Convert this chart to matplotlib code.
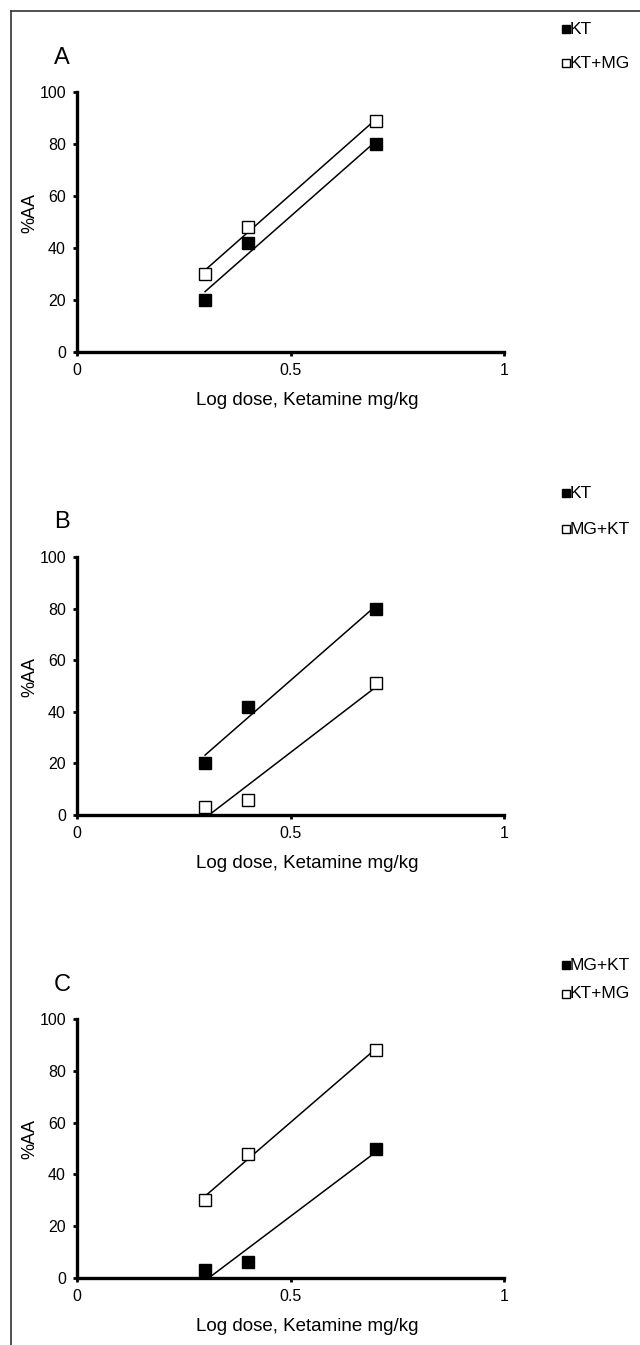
import numpy as np
import matplotlib
matplotlib.use("Agg")
import matplotlib.pyplot as plt
from matplotlib.lines import Line2D

plt.rcParams['font.family'] = ['Liberation Sans', 'DejaVu Sans']

log_dose = [0.30, 0.40, 0.70]

# panel A
a_kt = [20, 42, 80]
a_ktmg = [30, 48, 89]
# panel B
b_kt = [20, 42, 80]
b_mgkt = [3, 6, 51]
# panel C
c_mgkt = [3, 6, 50]
c_ktmg = [30, 48, 88]

panels = [
    ("A", ("KT", a_kt), ("KT+MG", a_ktmg)),
    ("B", ("KT", b_kt), ("MG+KT", b_mgkt)),
    ("C", ("MG+KT", c_mgkt), ("KT+MG", c_ktmg)),
]

W, H = 640, 1345
fig = plt.figure(figsize=(W / 100, H / 100), dpi=100)

# axes boxes in pixels: (top, bottom), legend first row y, letter y
boxes = [(92, 352, 29, 58), (557, 815, 493, 522), (1019, 1278, 965, 985)]
leg_gap = [34, 36, 29]

for (letter, filled, hollow), (top, bot, ly, lety), gap in zip(panels, boxes, leg_gap):
    ax = fig.add_axes([77 / W, 1 - bot / H, (504 - 77) / W, (bot - top) / H])
    x = np.array(log_dose)
    for name, y, face in [(filled[0], filled[1], 'black'), (hollow[0], hollow[1], 'white')]:
        k, b = np.polyfit(x, y, 1)
        ax.plot([x.min(), x.max()], [k * x.min() + b, k * x.max() + b],
                color='black', lw=1.1, zorder=2)
        ax.plot(x, y, 's', ms=8, mfc=face, mec='black', mew=1.0, zorder=3,
                clip_on=False)
    ax.set_xlim(0, 1)
    ax.set_ylim(0, 100)
    ax.set_xticks([0, 0.5, 1])
    ax.set_xticklabels(['0', '0.5', '1'])
    ax.set_yticks([0, 20, 40, 60, 80, 100])
    for s in ['top', 'right']:
        ax.spines[s].set_visible(False)
    for s in ['left', 'bottom']:
        ax.spines[s].set_linewidth(2.4)
    ax.tick_params(direction='out', length=3, width=2, labelsize=11.5)
    ax.tick_params(axis='y', pad=5)
    ax.tick_params(axis='x', pad=5)
    ax.set_xlabel('Log dose, Ketamine mg/kg', fontsize=13.5)
    ax.xaxis.set_label_coords(0.54, -0.155)
    ax.set_ylabel('%AA', fontsize=13)
    ax.yaxis.set_label_coords(-0.091, 0.535)
    ax.patch.set_alpha(0)

    fig.text(62 / W, 1 - lety / H, letter, fontsize=17, ha='center', va='center')

    # legend at the right
    for i, (name, face) in enumerate([(filled[0], 'black'), (hollow[0], 'white')]):
        yy = 1 - (ly + i * gap) / H
        fig.add_artist(Line2D([565.5 / W], [yy], marker='s', ms=6, mfc=face,
                              mec='black', mew=1.0, ls='none'))
        fig.text(570 / W, yy, name, fontsize=12.5, ha='left', va='center')

# page frame (top and left edge)
fig.add_artist(Line2D([11 / W, 1], [1 - 11 / H, 1 - 11 / H], color='#333333', lw=1.2))
fig.add_artist(Line2D([11 / W, 11 / W], [0, 1 - 11 / H], color='#333333', lw=1.2))

fig.savefig('out.png', dpi=100)
